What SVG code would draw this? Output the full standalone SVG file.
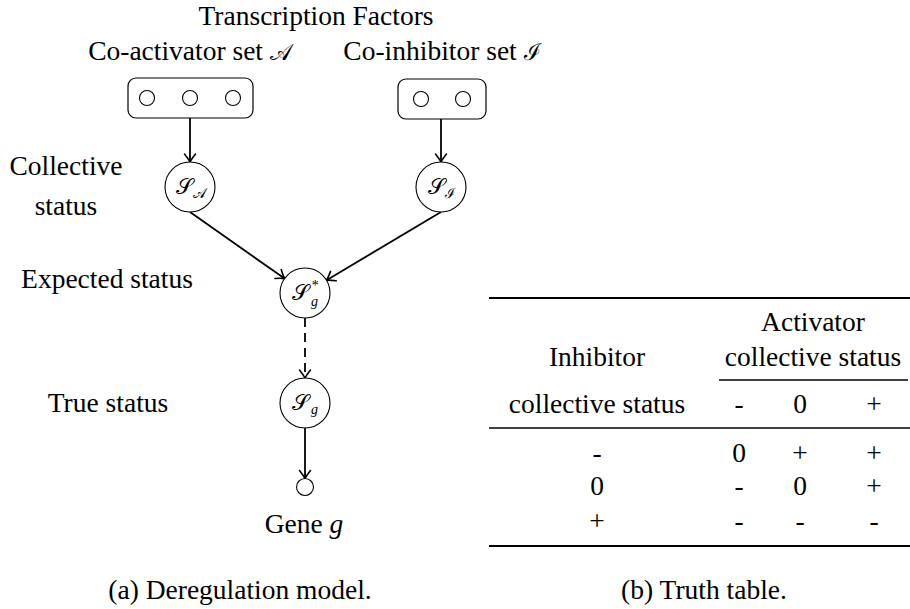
<svg xmlns="http://www.w3.org/2000/svg" width="910" height="609" viewBox="0 0 910 609">
<defs>
<marker id="arr" markerUnits="userSpaceOnUse" markerWidth="14" markerHeight="14" viewBox="-10 -7 12 14" refX="0" refY="0" orient="auto">
<path d="M-8,-5.5 Q-3,-1.5 0,0 Q-3,1.5 -8,5.5" fill="none" stroke="#000" stroke-width="1.6" stroke-linecap="round"/>
</marker>
</defs>

<g font-family="Liberation Serif" font-size="27.5" text-anchor="middle" fill="#000">
<text x="316" y="25">Transcription Factors</text>
<g id="label-collective">
<text x="66" y="175">Collective</text>
<text x="66" y="215">status</text>
</g>
<text x="107" y="288">Expected status</text>
<text x="108" y="412">True status</text>
<text x="240" y="599">(a) Deregulation model.</text>
<text x="704" y="599">(b) Truth table.</text>
</g>

<g id="activator-set">
<text x="190" y="60" font-family="Liberation Serif" font-size="27.5" text-anchor="middle">Co-activator set <tspan font-size="23">&#x1D49C;</tspan></text>
<rect x="128" y="78" width="125" height="40" rx="8" fill="none" stroke="#000" stroke-width="1.2"/>
<g fill="#fff" stroke="#000" stroke-width="1.1">
<circle cx="147" cy="98" r="7.5"/>
<circle cx="190" cy="98" r="7.5"/>
<circle cx="233" cy="98" r="7.5"/>
</g>
</g>

<g id="inhibitor-set">
<text x="442" y="60" font-family="Liberation Serif" font-size="27.5" text-anchor="middle">Co-inhibitor set <tspan font-size="23">&#x2110;</tspan></text>
<rect x="398" y="79" width="88" height="40" rx="8" fill="none" stroke="#000" stroke-width="1.2"/>
<g fill="#fff" stroke="#000" stroke-width="1.1">
<circle cx="421" cy="99" r="7.5"/>
<circle cx="463" cy="99" r="7.5"/>
</g>
</g>

<g id="connectors" fill="none" stroke="#000" stroke-width="1.8">
<line x1="190" y1="118" x2="190" y2="162" marker-end="url(#arr)"/>
<line x1="441" y1="119" x2="441" y2="162" marker-end="url(#arr)"/>
<line x1="190" y1="212" x2="284.6" y2="278.6" marker-end="url(#arr)"/>
<line x1="441" y1="212" x2="326.5" y2="280.2" marker-end="url(#arr)"/>
<line x1="305" y1="318" x2="305" y2="378" stroke-dasharray="9 6" marker-end="url(#arr)"/>
<line x1="305" y1="428" x2="305" y2="478.5" marker-end="url(#arr)"/>
</g>

<g id="S_A">
<circle cx="190" cy="187" r="25" fill="#fff" stroke="#000" stroke-width="1.1"/>
<text x="176" y="194" font-family="Liberation Serif" font-size="22">&#x1D4AE;<tspan font-size="14" dy="4">&#x1D49C;</tspan></text>
</g>
<g id="S_I">
<circle cx="441" cy="187" r="25" fill="#fff" stroke="#000" stroke-width="1.1"/>
<text x="428" y="194" font-family="Liberation Serif" font-size="22">&#x1D4AE;<tspan font-size="14" dy="4">&#x2110;</tspan></text>
</g>
<g id="S_g_star">
<circle cx="305" cy="293" r="25" fill="#fff" stroke="#000" stroke-width="1.1"/>
<text x="292" y="300" font-family="Liberation Serif" font-size="22">&#x1D4AE;</text>
<text x="311" y="290" font-family="Liberation Serif" font-size="14" font-style="italic">*</text>
<text x="311" y="306" font-family="Liberation Serif" font-size="14" font-style="italic">g</text>
</g>
<g id="S_g">
<circle cx="305" cy="403" r="25" fill="#fff" stroke="#000" stroke-width="1.1"/>
<text x="292" y="410" font-family="Liberation Serif" font-size="22">&#x1D4AE;</text>
<text x="311" y="414" font-family="Liberation Serif" font-size="14" font-style="italic">g</text>
</g>
<g id="gene">
<circle cx="305" cy="487" r="8.5" fill="#fff" stroke="#000" stroke-width="1.1"/>
<text x="304" y="533" font-family="Liberation Serif" font-size="27.5" text-anchor="middle">Gene <tspan font-style="italic">g</tspan></text>
</g>

<g id="truth-table" font-family="Liberation Serif" font-size="27.5" text-anchor="middle" fill="#000">
<line x1="489" y1="298" x2="910" y2="298" stroke="#000" stroke-width="2.2"/>
<text x="813" y="331">Activator</text>
<text x="597" y="366">Inhibitor</text>
<text x="813" y="366">collective status</text>
<line x1="719" y1="380" x2="908" y2="380" stroke="#000" stroke-width="1.4"/>
<text x="597" y="413">collective status</text>
<text x="739" y="413">-</text>
<text x="800" y="413">0</text>
<text x="874" y="413">+</text>
<line x1="489" y1="428" x2="910" y2="428" stroke="#000" stroke-width="1.4"/>
<text x="597" y="462">-</text>
<text x="739" y="462">0</text>
<text x="800" y="462">+</text>
<text x="874" y="462">+</text>
<text x="597" y="495">0</text>
<text x="739" y="495">-</text>
<text x="800" y="495">0</text>
<text x="874" y="495">+</text>
<text x="597" y="530">+</text>
<text x="739" y="530">-</text>
<text x="800" y="530">-</text>
<text x="874" y="530">-</text>
<line x1="489" y1="546" x2="910" y2="546" stroke="#000" stroke-width="2.2"/>
</g>
</svg>
